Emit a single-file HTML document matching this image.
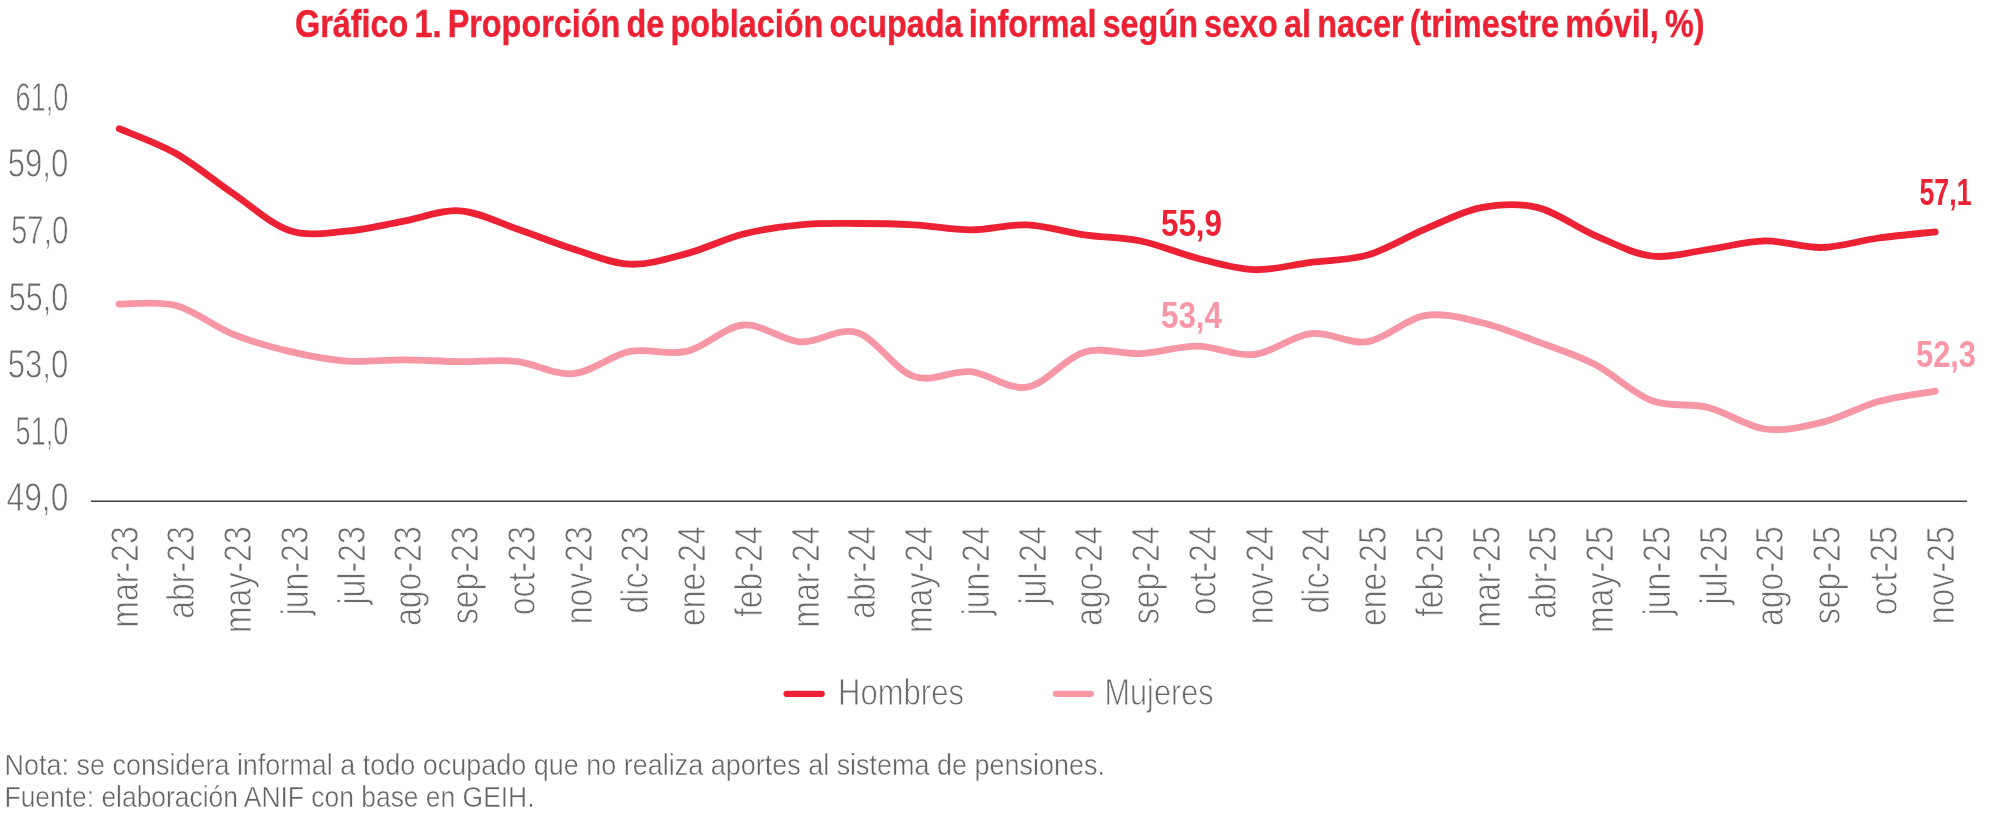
<!DOCTYPE html><html><head><meta charset="utf-8"><style>html,body{margin:0;padding:0;background:#fff;width:2000px;height:813px;overflow:hidden}svg{display:block;will-change:transform}text{font-family:"Liberation Sans",sans-serif}</style></head><body>
<svg width="2000" height="813" viewBox="0 0 2000 813">
<rect width="2000" height="813" fill="#fff"/>
<text x="295" y="37.2" font-size="39.5" font-weight="bold" fill="#EC2234" stroke="#EC2234" stroke-width="0.4" word-spacing="-3.5" textLength="1409.5" lengthAdjust="spacingAndGlyphs">Gráfico 1. Proporción de población ocupada informal según sexo al nacer (trimestre móvil, %)</text>
<text x="68.3" y="511.45" font-size="40.5" fill="#6B6B6B" text-anchor="end" textLength="61.7" lengthAdjust="spacingAndGlyphs" stroke="#fff" stroke-width="0.8">49,0</text>
<text x="68.3" y="444.65" font-size="40.5" fill="#6B6B6B" text-anchor="end" textLength="52.7" lengthAdjust="spacingAndGlyphs" stroke="#fff" stroke-width="0.8">51,0</text>
<text x="68.3" y="377.85" font-size="40.5" fill="#6B6B6B" text-anchor="end" textLength="60.5" lengthAdjust="spacingAndGlyphs" stroke="#fff" stroke-width="0.8">53,0</text>
<text x="68.3" y="311.05" font-size="40.5" fill="#6B6B6B" text-anchor="end" textLength="59.5" lengthAdjust="spacingAndGlyphs" stroke="#fff" stroke-width="0.8">55,0</text>
<text x="68.3" y="244.25" font-size="40.5" fill="#6B6B6B" text-anchor="end" textLength="57.3" lengthAdjust="spacingAndGlyphs" stroke="#fff" stroke-width="0.8">57,0</text>
<text x="68.3" y="177.45" font-size="40.5" fill="#6B6B6B" text-anchor="end" textLength="60.5" lengthAdjust="spacingAndGlyphs" stroke="#fff" stroke-width="0.8">59,0</text>
<text x="68.3" y="110.65" font-size="40.5" fill="#6B6B6B" text-anchor="end" textLength="52.7" lengthAdjust="spacingAndGlyphs" stroke="#fff" stroke-width="0.8">61,0</text>
<line x1="91" y1="501.35" x2="1967" y2="501.35" stroke="#404040" stroke-width="1.5"/>
<text transform="translate(137.60 526.3) rotate(-90) scale(0.843 1)" font-size="38" fill="#6B6B6B" text-anchor="end" stroke="#fff" stroke-width="0.8">mar-23</text>
<text transform="translate(194.35 526.3) rotate(-90) scale(0.843 1)" font-size="38" fill="#6B6B6B" text-anchor="end" stroke="#fff" stroke-width="0.8">abr-23</text>
<text transform="translate(251.10 526.3) rotate(-90) scale(0.843 1)" font-size="38" fill="#6B6B6B" text-anchor="end" stroke="#fff" stroke-width="0.8">may-23</text>
<text transform="translate(307.85 526.3) rotate(-90) scale(0.843 1)" font-size="38" fill="#6B6B6B" text-anchor="end" stroke="#fff" stroke-width="0.8">jun-23</text>
<text transform="translate(364.60 526.3) rotate(-90) scale(0.843 1)" font-size="38" fill="#6B6B6B" text-anchor="end" stroke="#fff" stroke-width="0.8">jul-23</text>
<text transform="translate(421.35 526.3) rotate(-90) scale(0.843 1)" font-size="38" fill="#6B6B6B" text-anchor="end" stroke="#fff" stroke-width="0.8">ago-23</text>
<text transform="translate(478.10 526.3) rotate(-90) scale(0.843 1)" font-size="38" fill="#6B6B6B" text-anchor="end" stroke="#fff" stroke-width="0.8">sep-23</text>
<text transform="translate(534.85 526.3) rotate(-90) scale(0.843 1)" font-size="38" fill="#6B6B6B" text-anchor="end" stroke="#fff" stroke-width="0.8">oct-23</text>
<text transform="translate(591.60 526.3) rotate(-90) scale(0.843 1)" font-size="38" fill="#6B6B6B" text-anchor="end" stroke="#fff" stroke-width="0.8">nov-23</text>
<text transform="translate(648.35 526.3) rotate(-90) scale(0.843 1)" font-size="38" fill="#6B6B6B" text-anchor="end" stroke="#fff" stroke-width="0.8">dic-23</text>
<text transform="translate(705.10 526.3) rotate(-90) scale(0.843 1)" font-size="38" fill="#6B6B6B" text-anchor="end" stroke="#fff" stroke-width="0.8">ene-24</text>
<text transform="translate(761.85 526.3) rotate(-90) scale(0.843 1)" font-size="38" fill="#6B6B6B" text-anchor="end" stroke="#fff" stroke-width="0.8">feb-24</text>
<text transform="translate(818.60 526.3) rotate(-90) scale(0.843 1)" font-size="38" fill="#6B6B6B" text-anchor="end" stroke="#fff" stroke-width="0.8">mar-24</text>
<text transform="translate(875.35 526.3) rotate(-90) scale(0.843 1)" font-size="38" fill="#6B6B6B" text-anchor="end" stroke="#fff" stroke-width="0.8">abr-24</text>
<text transform="translate(932.10 526.3) rotate(-90) scale(0.843 1)" font-size="38" fill="#6B6B6B" text-anchor="end" stroke="#fff" stroke-width="0.8">may-24</text>
<text transform="translate(988.85 526.3) rotate(-90) scale(0.843 1)" font-size="38" fill="#6B6B6B" text-anchor="end" stroke="#fff" stroke-width="0.8">jun-24</text>
<text transform="translate(1045.60 526.3) rotate(-90) scale(0.843 1)" font-size="38" fill="#6B6B6B" text-anchor="end" stroke="#fff" stroke-width="0.8">jul-24</text>
<text transform="translate(1102.35 526.3) rotate(-90) scale(0.843 1)" font-size="38" fill="#6B6B6B" text-anchor="end" stroke="#fff" stroke-width="0.8">ago-24</text>
<text transform="translate(1159.10 526.3) rotate(-90) scale(0.843 1)" font-size="38" fill="#6B6B6B" text-anchor="end" stroke="#fff" stroke-width="0.8">sep-24</text>
<text transform="translate(1215.85 526.3) rotate(-90) scale(0.843 1)" font-size="38" fill="#6B6B6B" text-anchor="end" stroke="#fff" stroke-width="0.8">oct-24</text>
<text transform="translate(1272.60 526.3) rotate(-90) scale(0.843 1)" font-size="38" fill="#6B6B6B" text-anchor="end" stroke="#fff" stroke-width="0.8">nov-24</text>
<text transform="translate(1329.35 526.3) rotate(-90) scale(0.843 1)" font-size="38" fill="#6B6B6B" text-anchor="end" stroke="#fff" stroke-width="0.8">dic-24</text>
<text transform="translate(1386.10 526.3) rotate(-90) scale(0.843 1)" font-size="38" fill="#6B6B6B" text-anchor="end" stroke="#fff" stroke-width="0.8">ene-25</text>
<text transform="translate(1442.85 526.3) rotate(-90) scale(0.843 1)" font-size="38" fill="#6B6B6B" text-anchor="end" stroke="#fff" stroke-width="0.8">feb-25</text>
<text transform="translate(1499.60 526.3) rotate(-90) scale(0.843 1)" font-size="38" fill="#6B6B6B" text-anchor="end" stroke="#fff" stroke-width="0.8">mar-25</text>
<text transform="translate(1556.35 526.3) rotate(-90) scale(0.843 1)" font-size="38" fill="#6B6B6B" text-anchor="end" stroke="#fff" stroke-width="0.8">abr-25</text>
<text transform="translate(1613.10 526.3) rotate(-90) scale(0.843 1)" font-size="38" fill="#6B6B6B" text-anchor="end" stroke="#fff" stroke-width="0.8">may-25</text>
<text transform="translate(1669.85 526.3) rotate(-90) scale(0.843 1)" font-size="38" fill="#6B6B6B" text-anchor="end" stroke="#fff" stroke-width="0.8">jun-25</text>
<text transform="translate(1726.60 526.3) rotate(-90) scale(0.843 1)" font-size="38" fill="#6B6B6B" text-anchor="end" stroke="#fff" stroke-width="0.8">jul-25</text>
<text transform="translate(1783.35 526.3) rotate(-90) scale(0.843 1)" font-size="38" fill="#6B6B6B" text-anchor="end" stroke="#fff" stroke-width="0.8">ago-25</text>
<text transform="translate(1840.10 526.3) rotate(-90) scale(0.843 1)" font-size="38" fill="#6B6B6B" text-anchor="end" stroke="#fff" stroke-width="0.8">sep-25</text>
<text transform="translate(1896.85 526.3) rotate(-90) scale(0.843 1)" font-size="38" fill="#6B6B6B" text-anchor="end" stroke="#fff" stroke-width="0.8">oct-25</text>
<text transform="translate(1953.60 526.3) rotate(-90) scale(0.843 1)" font-size="38" fill="#6B6B6B" text-anchor="end" stroke="#fff" stroke-width="0.8">nov-25</text>
<path d="M119.20 304.10 C128.66 304.33 157.03 300.50 175.95 305.50 C194.87 310.50 213.78 326.45 232.70 334.10 C251.62 341.75 270.53 346.90 289.45 351.40 C308.37 355.90 327.28 359.70 346.20 361.10 C365.12 362.50 384.03 359.70 402.95 359.80 C421.87 359.90 440.78 361.43 459.70 361.70 C478.62 361.97 497.53 359.40 516.45 361.40 C535.37 363.40 554.28 375.37 573.20 373.70 C592.12 372.03 611.03 355.12 629.95 351.40 C648.87 347.68 667.78 355.80 686.70 351.40 C705.62 347.00 724.53 326.58 743.45 325.00 C762.37 323.42 781.28 340.65 800.20 341.90 C819.12 343.15 838.03 326.75 856.95 332.50 C875.87 338.25 894.78 369.87 913.70 376.40 C932.62 382.93 951.53 369.92 970.45 371.70 C989.37 373.48 1008.28 390.35 1027.20 387.10 C1046.12 383.85 1065.03 357.78 1083.95 352.20 C1102.87 346.62 1121.78 354.62 1140.70 353.60 C1159.62 352.58 1178.53 345.95 1197.45 346.10 C1216.37 346.25 1235.28 356.58 1254.20 354.50 C1273.12 352.42 1292.03 335.73 1310.95 333.60 C1329.87 331.47 1348.78 344.68 1367.70 341.70 C1386.62 338.72 1405.53 318.90 1424.45 315.70 C1443.37 312.50 1462.28 318.13 1481.20 322.50 C1500.12 326.87 1519.03 334.93 1537.95 341.90 C1556.87 348.87 1575.78 354.53 1594.70 364.30 C1613.62 374.07 1632.53 393.30 1651.45 400.50 C1670.37 407.70 1689.28 402.75 1708.20 407.50 C1727.12 412.25 1746.03 426.52 1764.95 429.00 C1783.87 431.48 1802.78 426.98 1821.70 422.40 C1840.62 417.82 1859.53 406.72 1878.45 401.50 C1897.37 396.28 1925.74 392.83 1935.20 391.10" fill="none" stroke="#F797A6" stroke-width="6.8" stroke-linecap="round" stroke-linejoin="round"/>
<path d="M119.20 128.70 C128.66 132.83 157.03 142.73 175.95 153.50 C194.87 164.27 213.78 180.47 232.70 193.30 C251.62 206.13 270.53 224.18 289.45 230.50 C308.37 236.82 327.28 232.73 346.20 231.20 C365.12 229.67 384.03 224.70 402.95 221.30 C421.87 217.90 440.78 209.57 459.70 210.80 C478.62 212.03 497.53 222.33 516.45 228.70 C535.37 235.07 554.28 243.08 573.20 249.00 C592.12 254.92 611.03 263.43 629.95 264.20 C648.87 264.97 667.78 258.63 686.70 253.60 C705.62 248.57 724.53 238.80 743.45 234.00 C762.37 229.20 781.28 226.55 800.20 224.80 C819.12 223.05 838.03 223.50 856.95 223.50 C875.87 223.50 894.78 223.73 913.70 224.80 C932.62 225.87 951.53 229.88 970.45 229.90 C989.37 229.92 1008.28 224.08 1027.20 224.90 C1046.12 225.72 1065.03 232.12 1083.95 234.80 C1102.87 237.48 1121.78 237.10 1140.70 241.00 C1159.62 244.90 1178.53 253.42 1197.45 258.20 C1216.37 262.98 1235.28 269.02 1254.20 269.70 C1273.12 270.38 1292.03 264.73 1310.95 262.30 C1329.87 259.87 1348.78 260.58 1367.70 255.10 C1386.62 249.62 1405.53 237.32 1424.45 229.40 C1443.37 221.48 1462.28 211.23 1481.20 207.60 C1500.12 203.97 1519.03 202.98 1537.95 207.60 C1556.87 212.22 1575.78 227.23 1594.70 235.30 C1613.62 243.37 1632.53 253.63 1651.45 256.00 C1670.37 258.37 1689.28 252.02 1708.20 249.50 C1727.12 246.98 1746.03 241.23 1764.95 240.90 C1783.87 240.57 1802.78 247.98 1821.70 247.50 C1840.62 247.02 1859.53 240.60 1878.45 238.00 C1897.37 235.40 1925.74 232.92 1935.20 231.90" fill="none" stroke="#EC2234" stroke-width="6.8" stroke-linecap="round" stroke-linejoin="round"/>
<text x="1161" y="236.2" font-size="37.6" font-weight="bold" fill="#EC2234" textLength="61" lengthAdjust="spacingAndGlyphs">55,9</text>
<text x="1161" y="327.6" font-size="37.6" font-weight="bold" fill="#F797A6" textLength="61" lengthAdjust="spacingAndGlyphs">53,4</text>
<text x="1919.5" y="205.1" font-size="37.6" font-weight="bold" fill="#EC2234" textLength="52" lengthAdjust="spacingAndGlyphs">57,1</text>
<text x="1916" y="367.3" font-size="37.6" font-weight="bold" fill="#F797A6" textLength="60" lengthAdjust="spacingAndGlyphs">52,3</text>
<line x1="786.5" y1="693.8" x2="821.7" y2="693.8" stroke="#EC2234" stroke-width="6.2" stroke-linecap="round"/>
<text x="838" y="704.8" font-size="36.8" fill="#6B6B6B" textLength="126" lengthAdjust="spacingAndGlyphs" stroke="#fff" stroke-width="0.8">Hombres</text>
<line x1="1055.9" y1="693.8" x2="1090.8" y2="693.8" stroke="#F797A6" stroke-width="6.2" stroke-linecap="round"/>
<text x="1104.5" y="704.8" font-size="36.8" fill="#6B6B6B" textLength="109" lengthAdjust="spacingAndGlyphs" stroke="#fff" stroke-width="0.8">Mujeres</text>
<text x="4.5" y="775" font-size="29.5" fill="#646464" textLength="1100.5" lengthAdjust="spacingAndGlyphs" stroke="#fff" stroke-width="0.45">Nota: se considera informal a todo ocupado que no realiza aportes al sistema de pensiones.</text>
<text x="4.5" y="807.2" font-size="29.5" fill="#646464" textLength="530" lengthAdjust="spacingAndGlyphs" stroke="#fff" stroke-width="0.45">Fuente: elaboración ANIF con base en GEIH.</text>
</svg></body></html>
